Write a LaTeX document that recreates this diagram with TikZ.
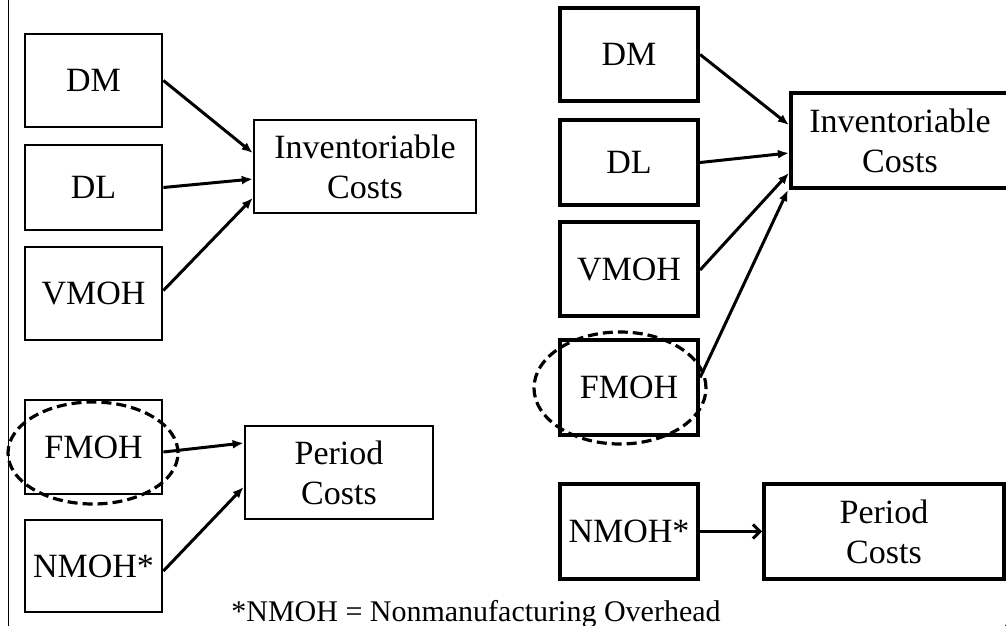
\documentclass[tikz,border=0pt]{standalone}
\usepackage{fontspec}
\setmainfont{Liberation Serif}
\usetikzlibrary{arrows.meta, positioning, shapes.geometric, calc}

\begin{document}
\begin{tikzpicture}[
      x=1pt, y=-1pt,
      box/.style={rectangle, draw, line width=2.8pt,
                  minimum width=137pt, minimum height=93pt,
                  inner sep=0pt, align=center},
      boxR/.style={box, line width=4.2pt, minimum width=138pt, minimum height=95pt},
      ring/.style={ellipse, draw, line width=3.2pt, dash pattern=on 10pt off 5pt,
                  inner sep=0pt},
      arrow/.style={-{Latex[length=11pt,width=9pt]}, line width=3pt},
      openarrow/.style={-{Straight Barb[length=7pt,width=14pt]}, line width=3pt},
      every node/.style={font=\fontsize{34}{40}\selectfont}
    ]
        \useasboundingbox (0,0) rectangle (1006,626);
        \draw[line width=1.5pt] (8.5,0) -- (8.5,626);
        % left: FMOH treated as period cost
        \node[box] (dmL) at (93.5,80.5) {DM};
        \node[box, minimum height=85pt] (dlL) at (93.5,187.5) {DL};
        \node[box] (vmohL) at (93.5,293.5) {VMOH};
        \node[box, minimum width=222pt, line width=2.5pt] (invL) at (365,166.5) {Inventoriable\\Costs};
        \node[box, minimum height=94pt] (fmohL) at (93.5,447) {FMOH};
        \node[box, minimum height=92pt] (nmohL) at (93.5,566) {NMOH*};
        \node[box, minimum width=188pt] (perL) at (339,472.5) {Period\\Costs};
        \node[ring, minimum width=170pt, minimum height=102pt] (ringL) at (93,453) {};
        \draw[arrow] (dmL.east) -- ([yshift=13.5pt]invL.west);
        \draw[arrow] (dlL.east) -- ([yshift=-12.5pt]invL.west);
        \draw[arrow] ([yshift=3pt]vmohL.east) -- ([yshift=-31.5pt]invL.west);
        \draw[arrow] ([yshift=-5pt]fmohL.east) -- ([yshift=29.5pt]perL.west);
        \draw[arrow] ([yshift=-5pt]nmohL.east) -- ([yshift=-14.5pt]perL.west);
        % right: FMOH treated as inventoriable cost
        \node[boxR, minimum height=93pt] (dmR) at (629,54.5) {DM};
        \node[boxR, minimum height=85pt] (dlR) at (629,162.5) {DL};
        \node[boxR, minimum height=94pt] (vmohR) at (629,269) {VMOH};
        \node[boxR, minimum width=218pt] (invR) at (900,140.5) {Inventoriable\\Costs};
        \node[boxR] (fmohR) at (629,387.5) {FMOH};
        \node[boxR] (nmohR) at (629,531.5) {NMOH*};
        \node[boxR, minimum width=240pt, line width=3.8pt] (perR) at (884,531.5) {Period\\Costs};
        \node[ring, minimum width=172pt, minimum height=112pt] (ringR) at (620,388) {};
        \draw[arrow] (dmR.east) -- ([yshift=15.5pt]invR.west);
        \draw[arrow] (dlR.east) -- ([yshift=-12.5pt]invR.west);
        \draw[arrow] ([yshift=-1pt]vmohR.east) -- ([yshift=-32.5pt]invR.west);
        \draw[arrow] ([yshift=10pt]fmohR.east) -- ([xshift=-1pt]invR.south west);
        \draw[openarrow] (nmohR.east) -- (perR.west);
        \node[anchor=base, font=\fontsize{30}{34}\selectfont] (note) at (476,621)
            {*NMOH = Nonmanufacturing Overhead};
        \node[anchor=base west, inner sep=0pt, font=\fontsize{30}{34}\selectfont] (page) at (998,641) {4};
\end{tikzpicture}
\end{document}
